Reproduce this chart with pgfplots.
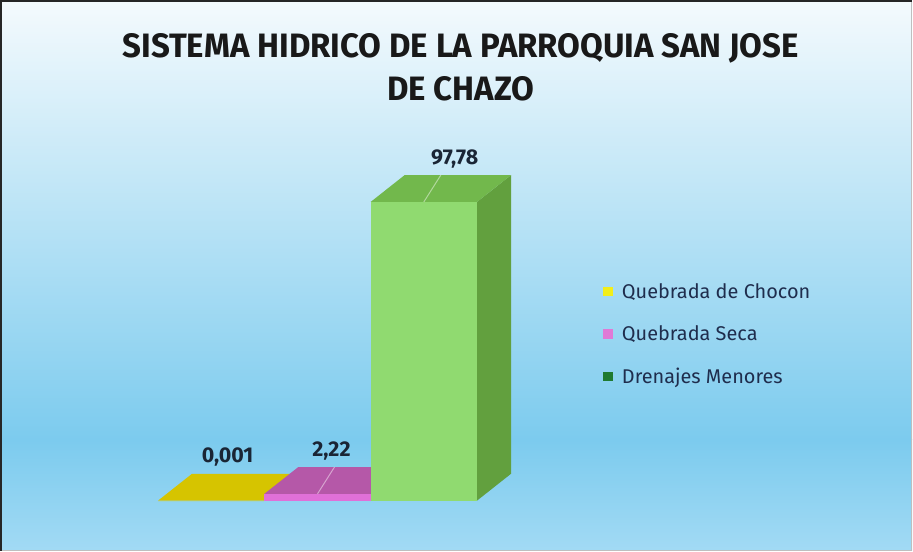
\documentclass[border=0pt]{standalone}
\usepackage{pgfplots}
\pgfplotsset{compat=1.18}
\usepackage{fontspec}
\setmainfont{Fira Sans}
\newfontfamily\titlefont[FakeStretch=0.975]{Fira Sans}
\definecolor{bgtop}{HTML}{F4FAFD}
\definecolor{bgmid}{HTML}{7CCBEE}
\definecolor{bgbot}{HTML}{A2DAF4}
\definecolor{yfront}{HTML}{E8D800}
\definecolor{ytop}{HTML}{D6C400}
\definecolor{yside}{HTML}{B8A800}
\definecolor{pfront}{HTML}{E070D8}
\definecolor{ptop}{HTML}{B558A8}
\definecolor{pside}{HTML}{A04C94}
\definecolor{gfront}{HTML}{90DA70}
\definecolor{gtop}{HTML}{72B84C}
\definecolor{gside}{HTML}{62A03E}
\definecolor{legY}{HTML}{F2EE1A}
\definecolor{legP}{HTML}{E07AD6}
\definecolor{legG}{HTML}{1F7A30}
\definecolor{navy}{HTML}{1F2D4D}
\definecolor{labcol}{HTML}{1A2535}
\begin{document}
\begin{tikzpicture}[x=1bp,y=1bp]
\shade[top color=bgtop, bottom color=bgmid] (0,551) rectangle (913,111);
\shade[top color=bgmid, bottom color=bgbot] (0,111) rectangle (913,0);
\draw[line width=1bp, black!25] (912.5,551) -- (912.5,0.5) -- (0,0.5);
\draw[line width=2bp, black!85] (1,0) -- (1,550) -- (913,550);
\node[font=\titlefont\bfseries\fontsize{34}{43}\selectfont, text=black!90, align=center] at (461,551-67) {SISTEMA HIDRICO DE LA PARROQUIA SAN JOSE\\DE CHAZO};
\begin{axis}[at={(0,0)}, anchor=south west, width=913bp, height=551bp,
  scale only axis, hide axis, clip=false,
  xmin=-1.9812, xmax=6.5915, ymin=-16.34, ymax=163.73,
  legend style={at={(0.6575,0.4935)}, anchor=north west, draw=none, fill=none,
    font=\fontsize{20}{23}\selectfont, text=navy, row sep=22bp,
    /tikz/every odd column/.append style={column sep=7bp}},
  legend cell align=left]
% yellow
\addplot[fill=yside, draw=none, forget plot] coordinates {(0.5,0) (0.82,8.8) (0.82,8.801) (0.5,0.001)} -- cycle;
\addplot[fill=ytop, draw=none, forget plot] coordinates {(-0.5,0.001) (0.5,0.001) (0.82,8.801) (-0.18,8.801)} -- cycle;
\addplot[ybar, bar width=1, bar shift=0pt, fill=yfront, draw=none,
  legend image code/.code={\fill[legY] (0bp,-5bp) rectangle (10bp,5bp);}] coordinates {(0,0.001)};
\addlegendentry{Quebrada de Chocon}
% pink
\addplot[fill=pside, draw=none, forget plot] coordinates {(1.5,0) (1.82,8.8) (1.82,11.02) (1.5,2.22)} -- cycle;
\addplot[fill=ptop, draw=none, forget plot] coordinates {(0.5,2.22) (1.5,2.22) (1.82,11.02) (0.82,11.02)} -- cycle;
\addplot[ybar, bar width=1, bar shift=0pt, fill=pfront, draw=none,
  legend image code/.code={\fill[legP] (0bp,-5bp) rectangle (10bp,5bp);}] coordinates {(1,2.22)};
\addlegendentry{Quebrada Seca}
% green
\addplot[fill=gside, draw=none, forget plot] coordinates {(2.5,0) (2.82,8.8) (2.82,106.58) (2.5,97.78)} -- cycle;
\addplot[fill=gtop, draw=none, forget plot] coordinates {(1.5,97.78) (2.5,97.78) (2.82,106.58) (1.82,106.58)} -- cycle;
\addplot[ybar, bar width=1, bar shift=0pt, fill=gfront, draw=none,
  legend image code/.code={\fill[legG] (0bp,-5bp) rectangle (10bp,5bp);}] coordinates {(2,97.78)};
\addlegendentry{Drenajes Menores}
% highlights on tops
\draw[white, opacity=0.45, line width=1bp] (axis cs:1,2.22) -- (axis cs:1.16,11.02);
\draw[white, opacity=0.45, line width=1bp] (axis cs:2,97.78) -- (axis cs:2.16,106.58);
% value labels
\node[font=\bfseries\fontsize{21.5}{24}\selectfont, text=labcol] at (axis cs:0.155,14.4) {0,001};
\node[font=\bfseries\fontsize{21.5}{24}\selectfont, text=labcol] at (axis cs:1.131,16.3) {2,22};
\node[font=\bfseries\fontsize{21.5}{24}\selectfont, text=labcol] at (axis cs:2.29,111.8) {97,78};
\end{axis}
\end{tikzpicture}
\end{document}
